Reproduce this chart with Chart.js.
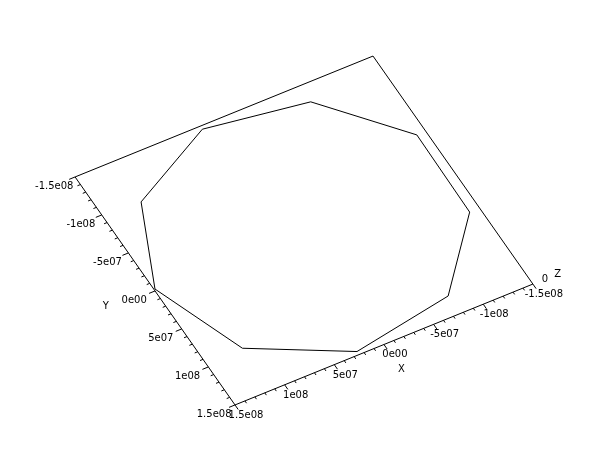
<!DOCTYPE html>
<html>
<head>
<meta charset="utf-8">
<script src="https://cdn.jsdelivr.net/npm/chart.js@4/dist/chart.umd.min.js"></script>
<style>
html,body{margin:0;padding:0;background:#fff;}
#wrap{width:610px;height:460px;}
</style>
</head>
<body>
<div id="wrap"><canvas id="c" width="610" height="460"></canvas></div>
<script>
// ---- data ----
const orbitX = [1.49e8, 1.13e8, 0.25e8, -0.77e8, -1.40e8, -1.41e8, -0.76e8, 0.24e8, 1.12e8, 1.49e8];
const orbitY = [-0.02e8, 0.95e8, 1.46e8, 1.27e8, 0.50e8, -0.51e8, -1.29e8, -1.46e8, -0.97e8, -0.02e8];
const orbitZ = [0, 0, 0, 0, 0, 0, 0, 0, 0, 0];

const xTicks = [-1.5e8, -1e8, -5e7, 0, 5e7, 1e8, 1.5e8];
const xTickLabels = ["-1.5e08", "-1e08", "-5e07", "0e00", "5e07", "1e08", "1.5e08"];
const yTicks = [-1.5e8, -1e8, -5e7, 0, 5e7, 1e8, 1.5e8];
const yTickLabels = ["-1.5e08", "-1e08", "-5e07", "0e00", "5e07", "1e08", "1.5e08"];
const zTicks = [0];
const zTickLabels = ["0"];
const axisTitles = ["X", "Y", "Z"];

// bounds of the 3D box
const xMin = -1.5e8, xMax = 1.5e8, yMin = -1.5e8, yMax = 1.5e8;

// ---- orthographic view (screen units of the hidden plane scales) ----
const U = 1e8;
const O = {x: 304, y: 230.5};
const EX = {x: -99.3, y: 40.3};  // per 1e8 along X
const EY = {x: 53.3, y: 76};     // per 1e8 along Y
function proj(X, Y, Z) {
  const a = X / U, b = Y / U;
  return {x: O.x + a * EX.x + b * EY.x, y: O.y + a * EX.y + b * EY.y - (Z || 0)};
}
function seg(p, q, w) {
  return {data: [p, q], showLine: true, borderColor: '#000', borderWidth: w || 1,
          pointRadius: 0, fill: false, tension: 0};
}

const datasets = [];
// orbit
datasets.push({
  data: orbitX.map((x, i) => proj(x, orbitY[i], orbitZ[i])),
  showLine: true, borderColor: '#000', borderWidth: 1, pointRadius: 0, fill: false, tension: 0
});
// box: axes and far edges
datasets.push(seg(proj(xMax, yMin, 0), proj(xMax, yMax, 0)));   // Y axis
datasets.push(seg(proj(xMax, yMax, 0), proj(xMin, yMax, 0)));   // X axis
datasets.push(seg(proj(xMax, yMin, 0), proj(xMin, yMin, 0)));   // back edge
datasets.push(seg(proj(xMin, yMin, 0), proj(xMin, yMax, 0)));   // back edge

// ticks on Y axis (pointing +X) and X axis (pointing +Y)
const majorLen = 0.06e8, minorLen = 0.03e8, minorStep = 1e7;
for (let v = yMin; v <= yMax + 1; v += minorStep) {
  const major = yTicks.some(t => Math.abs(t - v) < 1);
  const L = major ? majorLen : minorLen;
  datasets.push(seg(proj(xMax, v, 0), proj(xMax + L, v, 0)));
}
for (let v = xMin; v <= xMax + 1; v += minorStep) {
  const major = xTicks.some(t => Math.abs(t - v) < 1);
  const L = major ? majorLen : minorLen;
  datasets.push(seg(proj(v, yMax, 0), proj(v, yMax + L, 0)));
}

// text plugin: labels placed through the chart's scales
const labelPlugin = {
  id: 'axisLabels',
  afterDatasetsDraw(chart) {
    const ctx = chart.ctx, sx = chart.scales.x, sy = chart.scales.y;
    const put = (p, text, dx, dy) => {
      ctx.fillText(text, sx.getPixelForValue(p.x) + (dx || 0), sy.getPixelForValue(p.y) + (dy || 0));
    };
    ctx.save();
    ctx.fillStyle = '#000';
    ctx.font = '10px "DejaVu Sans"';
    ctx.textAlign = 'center';
    ctx.textBaseline = 'middle';
    yTicks.forEach((t, i) => put(proj(xMax + 0.21e8, t, 0), yTickLabels[i], 0, 1));
    xTicks.forEach((t, i) => put(proj(t, yMax + 0.15e8, 0), xTickLabels[i], 3, -1));
    zTicks.forEach((t, i) => put(proj(xMin - 0.12e8, yMax, t), zTickLabels[i]));
    put(proj(0, yMax + 0.33e8, 0), axisTitles[0]);
    put(proj(xMax + 0.47e8, -0.05e8, 0), axisTitles[1]);
    put(proj(xMin - 0.25e8, yMax, 0), axisTitles[2]);
    ctx.restore();
  }
};

new Chart(document.getElementById('c'), {
  type: 'scatter',
  data: {datasets},
  options: {
    responsive: false,
    animation: false,
    layout: {padding: 0},
    plugins: {legend: {display: false}, tooltip: {enabled: false}},
    scales: {
      x: {type: 'linear', min: 0, max: 610, display: false},
      y: {type: 'linear', min: 0, max: 460, reverse: true, display: false}
    }
  },
  plugins: [labelPlugin]
});
</script>
</body>
</html>
